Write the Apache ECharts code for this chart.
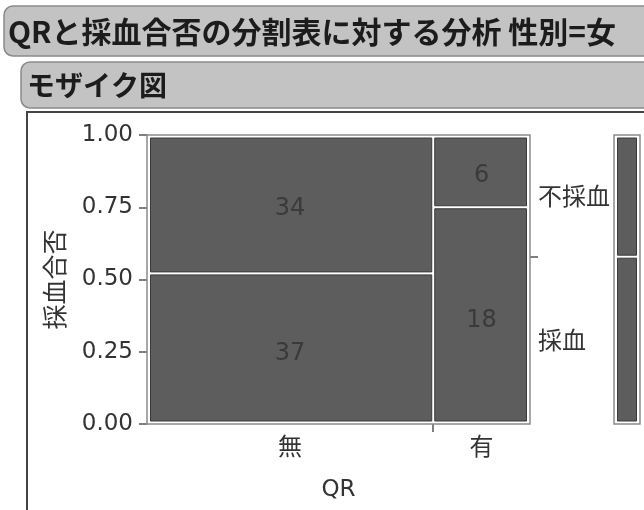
<!DOCTYPE html>
<html>
<head>
<meta charset="utf-8">
<script src="https://cdn.jsdelivr.net/npm/echarts@6/dist/echarts.min.js"></script>
<style>
  html, body { margin: 0; padding: 0; background: #fff; }
  #main { width: 644px; height: 510px; }
</style>
</head>
<body>
<div id="main"></div>
<script>
// Contingency table: QR (columns) × 採血合否 (rows, bottom to top)
const qrLevels = ['無', '有'];
const outcomeLevels = ['採血', '不採血'];
const takenCounts = [37, 18];     // 採血
const notTakenCounts = [34, 6];   // 不採血
const yTickValues = [0, 0.25, 0.5, 0.75, 1];

const colTotals = qrLevels.map((_, i) => takenCounts[i] + notTakenCounts[i]);
const grandTotal = colTotals.reduce((a, b) => a + b, 0);

// column edges along x (0..1), proportional to column totals
const colEdges = [0];
colTotals.forEach(t => colEdges.push(colEdges[colEdges.length - 1] + t / grandTotal));
const colMids = qrLevels.map((_, i) => (colEdges[i] + colEdges[i + 1]) / 2);

// mosaic cells: [x0, x1, y0, y1, count]
const mosaicCells = [];
qrLevels.forEach((_, i) => {
  const share = takenCounts[i] / colTotals[i];
  mosaicCells.push([colEdges[i], colEdges[i + 1], 0, share, takenCounts[i]]);
  mosaicCells.push([colEdges[i], colEdges[i + 1], share, 1, notTakenCounts[i]]);
});

// marginal split over all columns
const takenShare = takenCounts.reduce((a, b) => a + b, 0) / grandTotal;
const marginalCells = [[0, 1, 0, takenShare], [0, 1, takenShare, 1]];
const marginalMids = [takenShare / 2, (1 + takenShare) / 2];

const CJK = '"Noto Sans CJK JP", sans-serif';
const LATIN = '"DejaVu Sans", sans-serif';

function nearestIndex(list, v) {
  let best = 0;
  list.forEach((m, i) => { if (Math.abs(m - v) < Math.abs(list[best] - v)) best = i; });
  return best;
}

function cellRect(api, showCount) {
  const x0 = api.value(0), x1 = api.value(1), y0 = api.value(2), y1 = api.value(3);
  const tl = api.coord([x0, y1]);
  const br = api.coord([x1, y0]);
  const il = x0 <= 1e-6 ? 3.5 : 1.5;
  const ir = x1 >= 1 - 1e-6 ? 3.5 : 1.5;
  const it = y1 >= 1 - 1e-6 ? 3 : 1.5;
  const ib = y0 <= 1e-6 ? 3 : 1.5;
  const children = [{
    type: 'rect',
    shape: { x: tl[0] + il, y: tl[1] + it, width: br[0] - tl[0] - il - ir, height: br[1] - tl[1] - it - ib },
    style: { fill: '#5d5d5d', stroke: '#3a3a3a', lineWidth: 1 }
  }];
  if (showCount) {
    children.push({
      type: 'text',
      style: {
        text: String(api.value(4)),
        x: (tl[0] + br[0]) / 2, y: (tl[1] + br[1]) / 2 + 5,
        align: 'center', verticalAlign: 'middle',
        font: '24px ' + LATIN, fill: '#3a3a3a'
      }
    });
  }
  return { type: 'group', children };
}

function frameRect(api) {
  const tl = api.coord([0, 1]);
  const br = api.coord([1, 0]);
  return {
    type: 'rect',
    shape: { x: tl[0], y: tl[1], width: br[0] - tl[0], height: br[1] - tl[1] },
    style: { fill: '#fff', stroke: '#8a8a8a', lineWidth: 1.5 }
  };
}

const chart = echarts.init(document.getElementById('main'), null, { renderer: 'canvas' });

chart.setOption({
  animation: false,
  backgroundColor: '#fff',
  graphic: [
    { type: 'rect', shape: { x: 4, y: 6, width: 680, height: 50, r: 9 },
      style: { fill: '#c3c3c3', stroke: '#8a8a8a', lineWidth: 1.5 } },
    { type: 'text', style: { text: 'QRと採血合否の分割表に対する分析 性別=女', x: 8, y: 32,
      verticalAlign: 'middle', font: 'bold 30px ' + CJK, fill: '#1c1c1c' } },
    { type: 'rect', shape: { x: 21, y: 62, width: 660, height: 46, r: 9 },
      style: { fill: '#c3c3c3', stroke: '#8a8a8a', lineWidth: 1.5 } },
    { type: 'text', style: { text: 'モザイク図', x: 27, y: 85,
      verticalAlign: 'middle', font: 'bold 28px ' + CJK, fill: '#1c1c1c' } },
    { type: 'rect', shape: { x: 27, y: 112, width: 700, height: 500 },
      style: { fill: 'none', stroke: '#444', lineWidth: 2 } }
  ],
  grid: [
    { left: 147, top: 135, width: 383, height: 289 },
    { left: 614, top: 135, width: 26, height: 289 }
  ],
  xAxis: [
    {
      gridIndex: 0, type: 'value', min: 0, max: 1,
      splitLine: { show: false },
      axisLine: { show: false },
      axisTick: { show: true, customValues: [colEdges[1]], length: 8, lineStyle: { color: '#555', width: 1.5 } },
      axisLabel: {
        customValues: colMids,
        formatter: v => qrLevels[nearestIndex(colMids, v)],
        margin: 10, fontFamily: CJK, fontSize: 24, color: '#333'
      },
      name: 'QR', nameLocation: 'middle', nameGap: 55,
      nameTextStyle: { fontFamily: LATIN, fontSize: 23, color: '#333' }
    },
    { gridIndex: 1, type: 'value', min: 0, max: 1, show: false }
  ],
  yAxis: [
    {
      gridIndex: 0, type: 'value', min: 0, max: 1, interval: 0.25,
      splitLine: { show: false },
      axisLine: { show: true, lineStyle: { color: '#777', width: 1 } },
      axisTick: { show: true, customValues: yTickValues, length: 8, lineStyle: { color: '#555', width: 1.5 } },
      axisLabel: {
        customValues: yTickValues,
        formatter: v => v.toFixed(2),
        margin: 14, fontFamily: LATIN, fontSize: 23, color: '#333'
      },
      name: '採血合否', nameLocation: 'middle', nameGap: 80, nameRotate: 90,
      nameTextStyle: { fontFamily: CJK, fontSize: 25, color: '#333' }
    },
    {
      gridIndex: 0, type: 'value', min: 0, max: 1, position: 'right',
      splitLine: { show: false },
      axisLine: { show: false },
      axisTick: { show: true, customValues: [takenShare], length: 8, lineStyle: { color: '#555', width: 1.5 } },
      axisLabel: {
        customValues: marginalMids,
        formatter: v => outcomeLevels[nearestIndex(marginalMids, v)],
        margin: 8, fontFamily: CJK, fontSize: 24, color: '#333'
      }
    },
    { gridIndex: 1, type: 'value', min: 0, max: 1, show: false }
  ],
  series: [
    {
      type: 'custom', xAxisIndex: 0, yAxisIndex: 0, silent: true, z: 1,
      data: [[0, 1, 0, 1]],
      encode: { x: [0, 1], y: [2, 3] },
      renderItem: (params, api) => frameRect(api)
    },
    {
      type: 'custom', xAxisIndex: 0, yAxisIndex: 0, silent: true, z: 2,
      data: mosaicCells,
      encode: { x: [0, 1], y: [2, 3] },
      renderItem: (params, api) => cellRect(api, true)
    },
    {
      type: 'custom', xAxisIndex: 1, yAxisIndex: 2, silent: true, z: 1,
      data: [[0, 1, 0, 1]],
      encode: { x: [0, 1], y: [2, 3] },
      renderItem: (params, api) => frameRect(api)
    },
    {
      type: 'custom', xAxisIndex: 1, yAxisIndex: 2, silent: true, z: 2,
      data: marginalCells,
      encode: { x: [0, 1], y: [2, 3] },
      renderItem: (params, api) => cellRect(api, false)
    }
  ]
});
</script>
</body>
</html>
